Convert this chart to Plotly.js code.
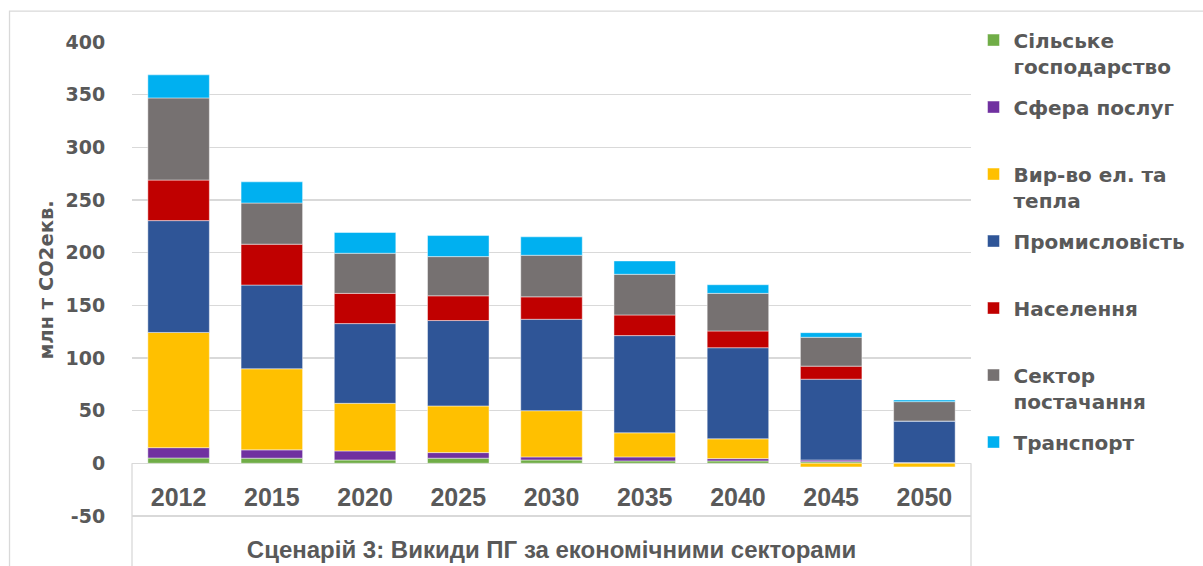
<!DOCTYPE html>
<html>
<head>
<meta charset="utf-8">
<script src="https://cdn.plot.ly/plotly-3.0.1.min.js"></script>
<style>html,body{margin:0;padding:0;background:#fff}#chart{width:1203px;height:566px}</style>
</head>
<body>
<div id="chart"></div>
<script>
const years = ['2012','2015','2020','2025','2030','2035','2040','2045','2050'];
const agriculture = [5, 4.8, 3.1, 4.8, 3.1, 2.2, 2.2, 1.5, 0.3];
const services    = [9.8, 7.9, 8.6, 5.3, 2.9, 3.8, 2.2, 1.6, 0.3];
const power       = [109.4, 77, 45.2, 44.3, 43.9, 22.9, 18.8, -3.5, -3.5];
const industry    = [106.2, 79.5, 75.7, 81.1, 86.8, 92.3, 86.5, 76.7, 39.5];
const population  = [38.5, 38.8, 28.7, 23.5, 21.3, 19.6, 15.9, 12.4, 0];
const supply      = [78, 39.1, 38.1, 37.2, 39.5, 38.6, 35.7, 27.4, 18.4];
const transport   = [21.9, 20.1, 19.7, 20, 17.5, 12.7, 8.2, 4.4, 1.6];

const yTickVals = [-50, 0, 50, 100, 150, 200, 250, 300, 350, 400];
const yTickText = ['-50', '0', '50', '100', '150', '200', '250', '300', '350', '400'];

const seriesNames = ['Сільське<br>господарство', 'Сфера послуг<br> ', 'Вир-во ел. та<br>тепла', 'Промисловість<br> ', 'Населення<br> ', 'Сектор<br>постачання', 'Транспорт'];
const seriesValues = [agriculture, services, power, industry, population, supply, transport];
const colors = ['#70AD47', '#7030A0', '#FFC000', '#2F5597', '#C00000', '#767171', '#00B0F0'];

const textColor = '#595959';
const boldFont = 'DejaVu Sans';
const yMin = -52, yMax = 400;
const zeroFrac = -yMin / (yMax - yMin);

const traces = seriesValues.map((vals, i) => ({
  type: 'bar',
  name: seriesNames[i],
  x: years,
  y: vals,
  legendgroup: 'g' + i,
  marker: {color: colors[i], line: {color: 'rgba(255,255,255,0.45)', width: 1}},
  hoverinfo: 'y+name'
}));

const layout = {
  width: 1203, height: 566,
  margin: {l: 132, r: 228, t: 42, b: 48},
  paper_bgcolor: '#ffffff', plot_bgcolor: '#ffffff',
  barmode: 'relative',
  bargap: 0.34,
  showlegend: true,
  legend: {
    x: 1.003, xanchor: 'left', y: 1.045, yanchor: 'top',
    font: {family: boldFont, size: 20, color: textColor, weight: 'bold'},
    traceorder: 'grouped', tracegroupgap: 12, valign: 'top',
    maxheight: 560,
    bgcolor: 'rgba(0,0,0,0)'
  },
  xaxis: {
    type: 'category',
    anchor: 'free', position: zeroFrac,
    showgrid: false, zeroline: false, showline: false,
    ticks: 'outside', ticklen: 12, tickcolor: 'rgba(0,0,0,0)',
    tickfont: {family: 'Liberation Sans', size: 25, color: textColor, weight: 'bold'},
    title: {text: 'Сценарій 3: Викиди ПГ за економічними секторами', standoff: 30,
      font: {family: 'Liberation Sans', size: 24, color: textColor, weight: 'bold'}},
    automargin: false
  },
  yaxis: {
    range: [yMin, yMax], tickvals: yTickVals, ticktext: yTickText,
    showgrid: true, gridcolor: '#d9d9d9', gridwidth: 1.3,
    zeroline: true, zerolinecolor: '#d9d9d9', zerolinewidth: 1.3,
    showline: false,
    ticks: 'outside', ticklen: 22, tickcolor: 'rgba(0,0,0,0)',
    tickfont: {family: boldFont, size: 19, color: textColor, weight: 'bold'},
    title: {text: 'млн т CO2екв.', standoff: 6,
      font: {family: boldFont, size: 19.5, color: textColor, weight: 'bold'}},
    automargin: false
  },
  shapes: [
    {type: 'line', xref: 'paper', yref: 'paper', x0: 0, x1: 0, y0: zeroFrac, y1: -0.2, line: {color: '#d9d9d9', width: 1.3}},
    {type: 'line', xref: 'paper', yref: 'paper', x0: 1, x1: 1, y0: zeroFrac, y1: -0.2, line: {color: '#d9d9d9', width: 1.3}},
    {type: 'rect', xref: 'paper', yref: 'paper', x0: -0.146, x1: 1.6, y0: -0.3, y1: 1.065, line: {color: '#d9d9d9', width: 1.3}, layer: 'below'}
  ]
};

Plotly.newPlot('chart', traces, layout, {displayModeBar: false, staticPlot: true});
</script>
</body>
</html>
